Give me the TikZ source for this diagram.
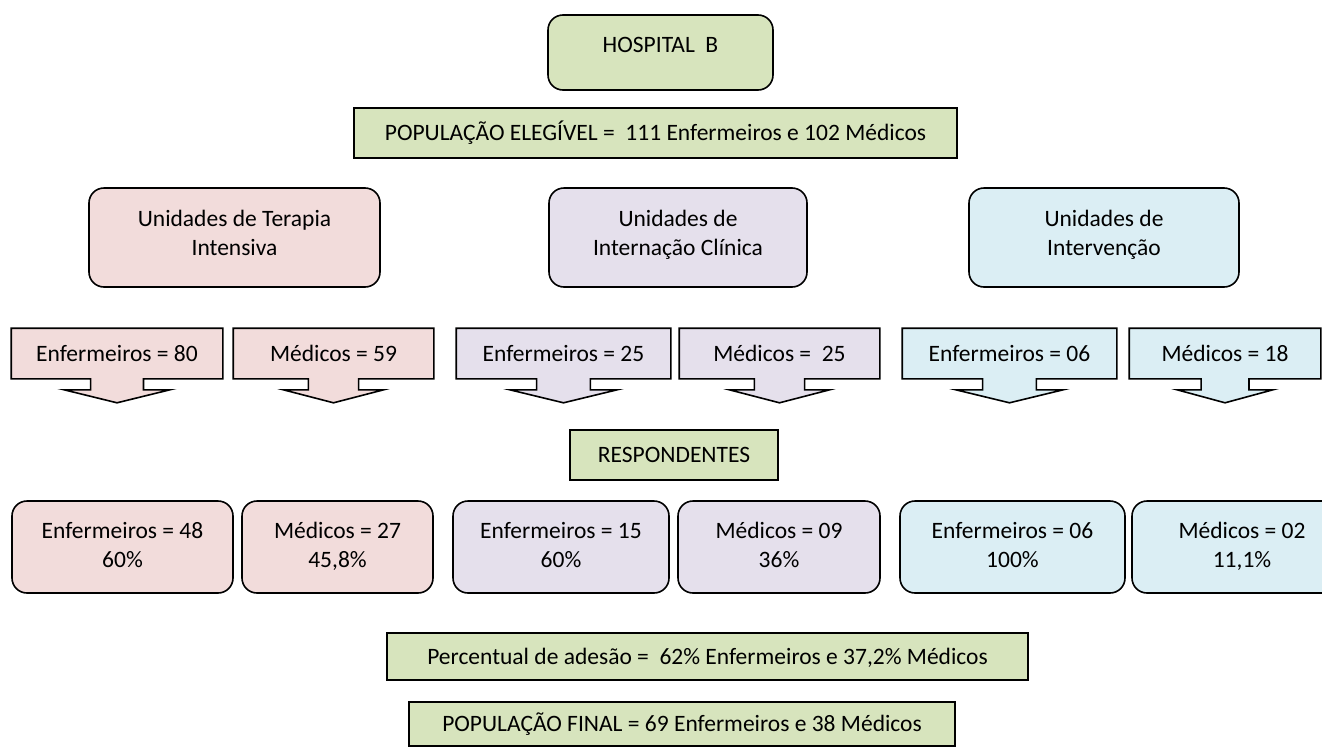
\documentclass[tikz,border=0pt]{standalone}
\usepackage{fontspec}
\setmainfont{Carlito}
\usetikzlibrary{calc,backgrounds}
\definecolor{cgreen}{HTML}{D7E4BD}
\definecolor{cpink}{HTML}{F2DCDB}
\definecolor{cpurple}{HTML}{E5E0EC}
\definecolor{cblue}{HTML}{DBEEF4}
\tikzset{
  x=1pt, y=-1pt,
  base/.style={font=\fontsize{23.5}{29}\selectfont, align=center, inner sep=0pt, line width=1.6pt, text=black,
    execute at begin node={\vphantom{É}}, execute at end node={\vphantom{ç}}},
  textup/.style={execute at end node={\vphantom{ç}\rule[-#1]{0pt}{0pt}}},
  sqbox/.style={base, draw=black, rectangle},
  rbox/.style={base, draw=black, rectangle, rounded corners=15pt},
  calloutbox/.style={base, rectangle},
  arrowline/.style={draw=black, line width=1.6pt, line join=miter},
}
\newcommand\calloutarrow[2]{%
  \path[arrowline, fill=#2]
    (#1.north west) -- (#1.north east) -- (#1.south east)
    -- ($(#1.south west)!0.625!(#1.south east)$)
    -- ($(#1.south west)!0.625!(#1.south east)+(0,-11pt)$)
    -- ($(#1.south west)!0.75!(#1.south east)+(0,-11pt)$)
    -- ($(#1.south)+(0,-24pt)$)
    -- ($(#1.south west)!0.25!(#1.south east)+(0,-11pt)$)
    -- ($(#1.south west)!0.375!(#1.south east)+(0,-11pt)$)
    -- ($(#1.south west)!0.375!(#1.south east)$)
    -- (#1.south west) -- cycle;}
\begin{document}
\begin{tikzpicture}
\useasboundingbox (0,0) rectangle (1322,747);
\clip (0,0) rectangle (1322,747);

% top
\node[rbox, fill=cgreen, minimum width=225pt, minimum height=75pt, textup=20pt] (hosp) at (660.5,52.5) {HOSPITAL\ \ B};
\node[sqbox, fill=cgreen, minimum width=603pt, minimum height=50pt] (pop) at (655.5,133) {POPULAÇÃO ELEGÍVEL =\ \ 111 Enfermeiros e 102 Médicos};

% units
\node[rbox, fill=cpink, minimum width=291pt, minimum height=99pt, textup=10pt] (uti) at (234.5,237.5) {Unidades de Terapia\\Intensiva};
\node[rbox, fill=cpurple, minimum width=258pt, minimum height=99pt, textup=10pt] (uic) at (678,237.5) {Unidades de\\Internação Clínica};
\node[rbox, fill=cblue, minimum width=270pt, minimum height=99pt, textup=10pt] (uint) at (1104,237.5) {Unidades de\\Intervenção};

% callouts
\node[calloutbox, minimum width=210pt, minimum height=49pt] (c1) at (117,353.5) {Enfermeiros = 80};
\node[calloutbox, minimum width=199pt, minimum height=49pt] (c2) at (333.5,353.5) {Médicos = 59};
\node[calloutbox, minimum width=213pt, minimum height=49pt] (c3) at (563.5,353.5) {Enfermeiros = 25};
\node[calloutbox, minimum width=199pt, minimum height=49pt] (c4) at (779.5,353.5) {Médicos =\ \ 25};
\node[calloutbox, minimum width=213pt, minimum height=49pt] (c5) at (1009.5,353.5) {Enfermeiros = 06};
\node[calloutbox, minimum width=190pt, minimum height=49pt] (c6) at (1225,353.5) {Médicos = 18};
\begin{pgfonlayer}{background}
\calloutarrow{c1}{cpink}
\calloutarrow{c2}{cpink}
\calloutarrow{c3}{cpurple}
\calloutarrow{c4}{cpurple}
\calloutarrow{c5}{cblue}
\calloutarrow{c6}{cblue}
\end{pgfonlayer}

% respondentes
\node[sqbox, fill=cgreen, minimum width=208pt, minimum height=50pt] (resp) at (674,455) {RESPONDENTES};

% results
\node[rbox, fill=cpink, minimum width=221pt, minimum height=92pt] (b1) at (122.5,547) {Enfermeiros = 48\\60\%};
\node[rbox, fill=cpink, minimum width=191pt, minimum height=92pt] (b2) at (337.5,547) {Médicos = 27\\45,8\%};
\node[rbox, fill=cpurple, minimum width=216pt, minimum height=92pt] (b3) at (561,547) {Enfermeiros = 15\\60\%};
\node[rbox, fill=cpurple, minimum width=202pt, minimum height=92pt] (b4) at (779,547) {Médicos = 09\\36\%};
\node[rbox, fill=cblue, minimum width=225pt, minimum height=92pt] (b5) at (1012.5,547) {Enfermeiros = 06\\100\%};
\node[rbox, fill=cblue, minimum width=220pt, minimum height=92pt] (b6) at (1242,547) {Médicos = 02\\11,1\%};

% totals
\node[sqbox, fill=cgreen, minimum width=641pt, minimum height=47pt] (perc) at (707.5,656.5) {Percentual de adesão =\ \ 62\% Enfermeiros e 37,2\% Médicos};
\node[sqbox, fill=cgreen, minimum width=546pt, minimum height=44pt] (final) at (682,724) {POPULAÇÃO FINAL = 69 Enfermeiros e 38 Médicos};
\end{tikzpicture}
\end{document}
